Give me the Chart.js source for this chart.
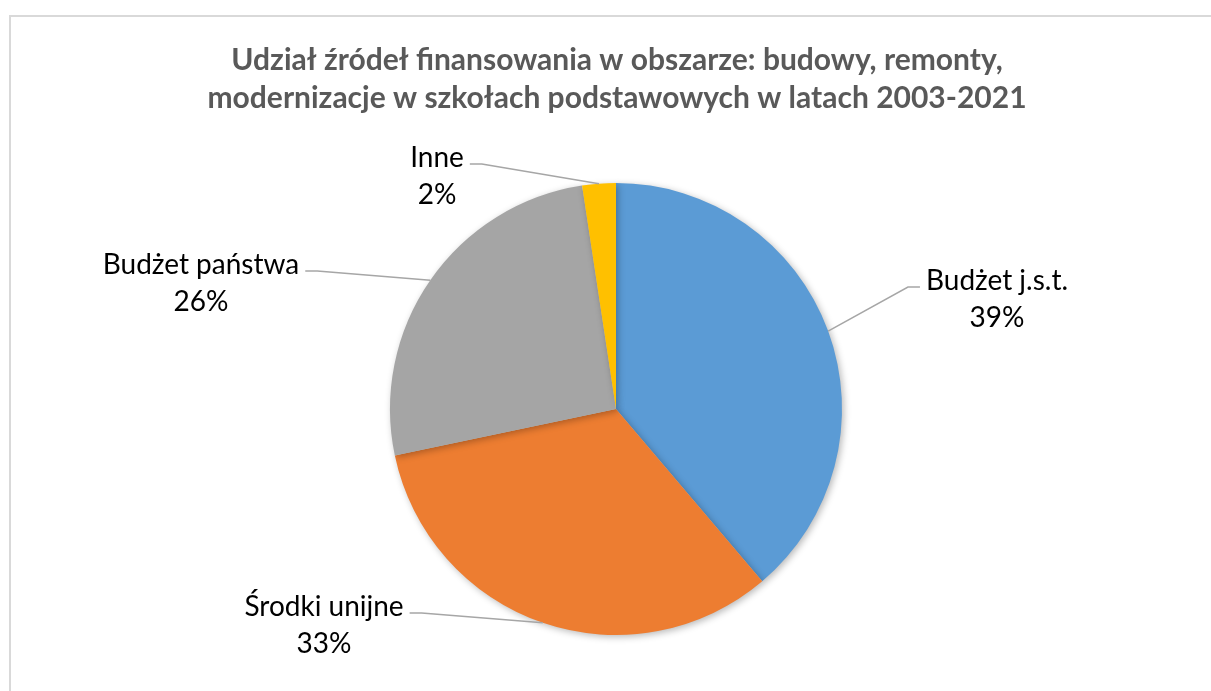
<!DOCTYPE html>
<html>
<head>
<meta charset="utf-8">
<script src="https://cdn.jsdelivr.net/npm/chart.js@4"></script>
<style>
  html, body { margin: 0; padding: 0; background: #fff; }
  canvas { display: block; }
</style>
</head>
<body>
<canvas id="wykres" width="1211" height="691"></canvas>
<script>
// dane wykresu
const tytul = ["Udział źródeł finansowania w obszarze: budowy, remonty,",
               "modernizacje w szkołach podstawowych w latach 2003-2021"];
const kategorie = ["Budżet j.s.t.", "Środki unijne", "Budżet państwa", "Inne"];
const udzialy = [38.8, 32.9, 25.9, 2.4];
const kolory = ["#5B9BD5", "#ED7D31", "#A5A5A5", "#FFC000"];
const etykietyProcent = udzialy.map(v => Math.round(v) + "%");

// polozenie etykiet wzgledem srodka kola (dx, dy pierwszej linii), strona laczenia linii
const ulozenieEtykiet = [
  { dx: 381, dy: -128, strona: "lewo" },
  { dx: -292, dy: 198, strona: "prawo" },
  { dx: -415, dy: -144, strona: "prawo" },
  { dx: -179, dy: -251, strona: "prawo" }
];

const fontEtykiet = "28px Lato";
const fontTytulu = "bold 30px Lato";

// ramka wykresu
const ramka = {
  id: "ramka",
  beforeDraw(chart) {
    const ctx = chart.ctx;
    ctx.save();
    ctx.fillStyle = "#fff";
    ctx.fillRect(0, 0, chart.width, chart.height);
    ctx.strokeStyle = "#D9D9D9";
    ctx.lineWidth = 2;
    ctx.strokeRect(10, 16, chart.width + 20, chart.height + 20);
    ctx.restore();
  }
};

// cien pod kolem
const cien = {
  id: "cien",
  beforeDatasetsDraw(chart) {
    const ctx = chart.ctx;
    ctx.save();
    ctx.shadowColor = "rgba(0,0,0,0.28)";
    ctx.shadowBlur = 7;
    ctx.shadowOffsetX = 2;
    ctx.shadowOffsetY = 2;
  },
  afterDatasetsDraw(chart) {
    chart.ctx.restore();
  }
};

// tytul i etykiety z liniami odniesienia
const etykiety = {
  id: "etykiety",
  afterDraw(chart) {
    const ctx = chart.ctx;
    const meta = chart.getDatasetMeta(0);
    ctx.save();

    ctx.fillStyle = "#595959";
    ctx.font = fontTytulu;
    ctx.textAlign = "center";
    ctx.textBaseline = "middle";
    ctx.fillText(tytul[0], 617, 60);
    ctx.fillText(tytul[1], 617, 98);

    ctx.font = fontEtykiet;
    meta.data.forEach((luk, i) => {
      const srodek = (luk.startAngle + luk.endAngle) / 2;
      const px = luk.x + Math.cos(srodek) * luk.outerRadius;
      const py = luk.y + Math.sin(srodek) * luk.outerRadius;
      const u = ulozenieEtykiet[i];
      const cx = luk.x + u.dx;
      const y1 = luk.y + u.dy;
      const szer = Math.max(ctx.measureText(kategorie[i]).width, ctx.measureText(etykietyProcent[i]).width);
      const ax = u.strona === "lewo" ? cx - szer / 2 - 6 : cx + szer / 2 + 6;
      const ay = y1 + 6;
      const ex = u.strona === "lewo" ? ax - 12 : ax + 12;

      ctx.strokeStyle = "#A6A6A6";
      ctx.lineWidth = 1.5;
      ctx.beginPath();
      ctx.moveTo(px, py);
      ctx.lineTo(ex, ay);
      ctx.lineTo(ax, ay);
      ctx.stroke();

      ctx.fillStyle = "#000";
      ctx.fillText(kategorie[i], cx, y1);
      ctx.fillText(etykietyProcent[i], cx, y1 + 37);
    });
    ctx.restore();
  }
};

new Chart(document.getElementById("wykres"), {
  type: "pie",
  data: {
    labels: kategorie,
    datasets: [{
      data: udzialy,
      backgroundColor: kolory,
      borderWidth: 0
    }]
  },
  options: {
    responsive: false,
    devicePixelRatio: 1,
    animation: false,
    layout: { padding: { left: 390, right: 369, top: 183, bottom: 56 } },
    plugins: {
      legend: { display: false },
      tooltip: { enabled: false }
    }
  },
  plugins: [ramka, cien, etykiety]
});
</script>
</body>
</html>
